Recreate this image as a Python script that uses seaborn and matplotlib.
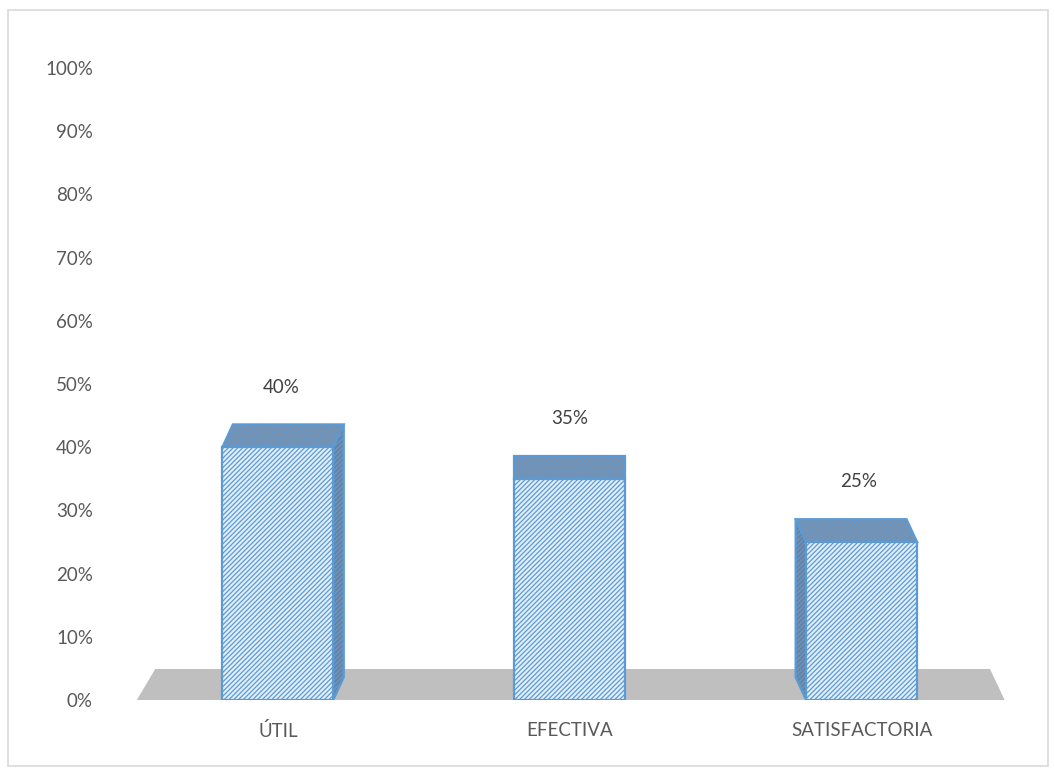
import matplotlib
matplotlib.use("Agg")
import matplotlib.pyplot as plt
import seaborn as sns
import pandas as pd
from matplotlib.patches import Polygon, Rectangle
from matplotlib.ticker import PercentFormatter

categories = ["ÚTIL", "EFECTIVA", "SATISFACTORIA"]
values = [0.40, 0.35, 0.25]
value_labels = ["40%", "35%", "25%"]

sns.set_style("white")
plt.rcParams["font.family"] = ["Lato", "DejaVu Sans"]
plt.rcParams["hatch.linewidth"] = 0.9

df = pd.DataFrame({"cat": categories, "val": values})

fig = plt.figure(figsize=(10.55, 7.72), dpi=100)
ax = fig.add_axes([0.125, 0.0933, 0.83, 0.8187])

front = "#E2EEF9"
edge = "#5B9BD5"
ax = sns.barplot(data=df, x="cat", y="val", width=0.38, color=front,
                 edgecolor=edge, linewidth=1.6, hatch="///////", ax=ax,
                 saturation=1, zorder=3)

ax.set_xlim(-0.5, 2.5)
ax.set_ylim(0, 1)

# floor of the 3d look
floor = Polygon([(-0.483, 0), (2.49, 0), (2.44, 0.049), (-0.42, 0.049)],
                closed=True, facecolor="#BFBFBF", edgecolor="none", zorder=1)
ax.add_patch(floor)

# top and side faces built from the bar rectangles
dy = 0.036
for i, bar in enumerate(ax.patches[:len(values)]):
    x0 = bar.get_x()
    w = bar.get_width()
    h = bar.get_height()
    x1 = x0 + w
    dx = (1 - i) * 0.036
    top = Polygon([(x0, h), (x1, h), (x1 + dx, h + dy), (x0 + dx, h + dy)],
                  closed=True, facecolor="#7E8FA6", edgecolor=edge,
                  linewidth=1.6, hatch="///////", zorder=2)
    ax.add_patch(top)
    sx = x1 if dx > 0 else x0
    if dx != 0:
        side = Polygon([(sx, 0), (sx, h), (sx + dx, h + dy), (sx + dx, dy)],
                       closed=True, facecolor="#6F8099", edgecolor=edge,
                       linewidth=1.6, hatch="///////", zorder=2)
        ax.add_patch(side)
    ax.text(bar.get_x() + w / 2 + dx * 0.3, h + 0.095, value_labels[i],
            ha="center", va="center", fontsize=13.5, color="#404040")

ax.set_yticks([i / 10 for i in range(11)])
ax.yaxis.set_major_formatter(PercentFormatter(1.0, decimals=0))
ax.tick_params(axis="y", length=0, pad=28, labelsize=13.5, labelcolor="#595959")
ax.tick_params(axis="x", length=0, pad=16, labelsize=13.5, labelcolor="#595959")
ax.set_xlabel("")
ax.set_ylabel("")
for s in ax.spines.values():
    s.set_visible(False)

fig.patches.append(Rectangle((8 / 1055, 6 / 772), 1040 / 1055, 756 / 772,
                             transform=fig.transFigure, fill=False,
                             edgecolor="#D9D9D9", linewidth=1.2))

fig.savefig("out.png", dpi=100)
